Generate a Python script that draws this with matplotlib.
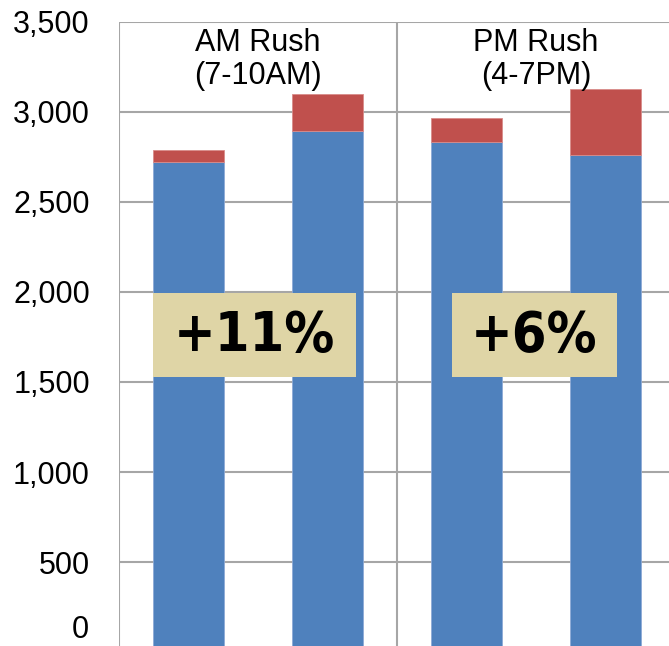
import matplotlib
matplotlib.use("Agg")
import matplotlib.pyplot as plt
from matplotlib.patches import Rectangle

groups = ["AM Rush\n(7-10AM)", "PM Rush\n(4-7PM)"]
base = [2724, 2896, 2835, 2759]
extra = [63, 202, 130, 369]
pct_labels = ["+11%", "+6%"]
yticks = [0, 500, 1000, 1500, 2000, 2500, 3000, 3500]
ytick_labels = ["0", "500", "1,000", "1,500", "2,000", "2,500", "3,000", "3,500"]

W, H = 669, 646
fig = plt.figure(figsize=(W / 100, H / 100), dpi=100)
left_px, right_px, top_px, bot_px = 119, 675, 22, 652
ax = fig.add_axes([left_px / W, (H - bot_px) / H, (right_px - left_px) / W, (bot_px - top_px) / H])
ax.set_xlim(0, 2)
ax.set_ylim(0, 3500)

blue = "#4F81BD"
red = "#C0504D"
grid_c = "#A6A6A6"

xpos = [0.25, 0.75, 1.25, 1.75]
bw = 0.255
ax.bar(xpos, base, width=bw, color=blue, edgecolor="#8EAAD6", linewidth=0.6, zorder=3)
ax.bar(xpos, extra, bottom=base, width=bw, color=red, edgecolor="#D98C8A", linewidth=0.6, zorder=3)

for y in yticks:
    ax.axhline(y, color=grid_c, lw=1.5, zorder=1)
for x in [0, 1, 2]:
    ax.axvline(x, color=grid_c, lw=1.5, zorder=1)

for s in ax.spines.values():
    s.set_visible(False)

fs = 22
ax.set_xticks([])
ax.set_yticks(yticks)
ax.set_yticklabels([""] + ytick_labels[1:], fontsize=fs, family="Liberation Sans")
ax.tick_params(axis="y", length=0, pad=21)
ax.text(-0.108, 120, ytick_labels[0], fontsize=fs, family="Liberation Sans",
        ha="right", va="center")

for i, g in enumerate(groups):
    ax.text(i + 0.5, 3468, g, ha="center", va="top", fontsize=fs,
            family="Liberation Sans", linespacing=1.12, zorder=4)

boxes = [(0.122, 0.853), (1.198, 1.791)]
for (x0, x1), lab in zip(boxes, pct_labels):
    ax.add_patch(Rectangle((x0, 1530), x1 - x0, 465, facecolor="#DFD5A6",
                           edgecolor="none", zorder=5))
    ax.text((x0 + x1) / 2, 1755, lab, ha="center", va="center", fontsize=40,
            fontweight="bold", fontstretch="condensed", family="DejaVu Sans", zorder=6)

fig.savefig("out.png", dpi=100)
